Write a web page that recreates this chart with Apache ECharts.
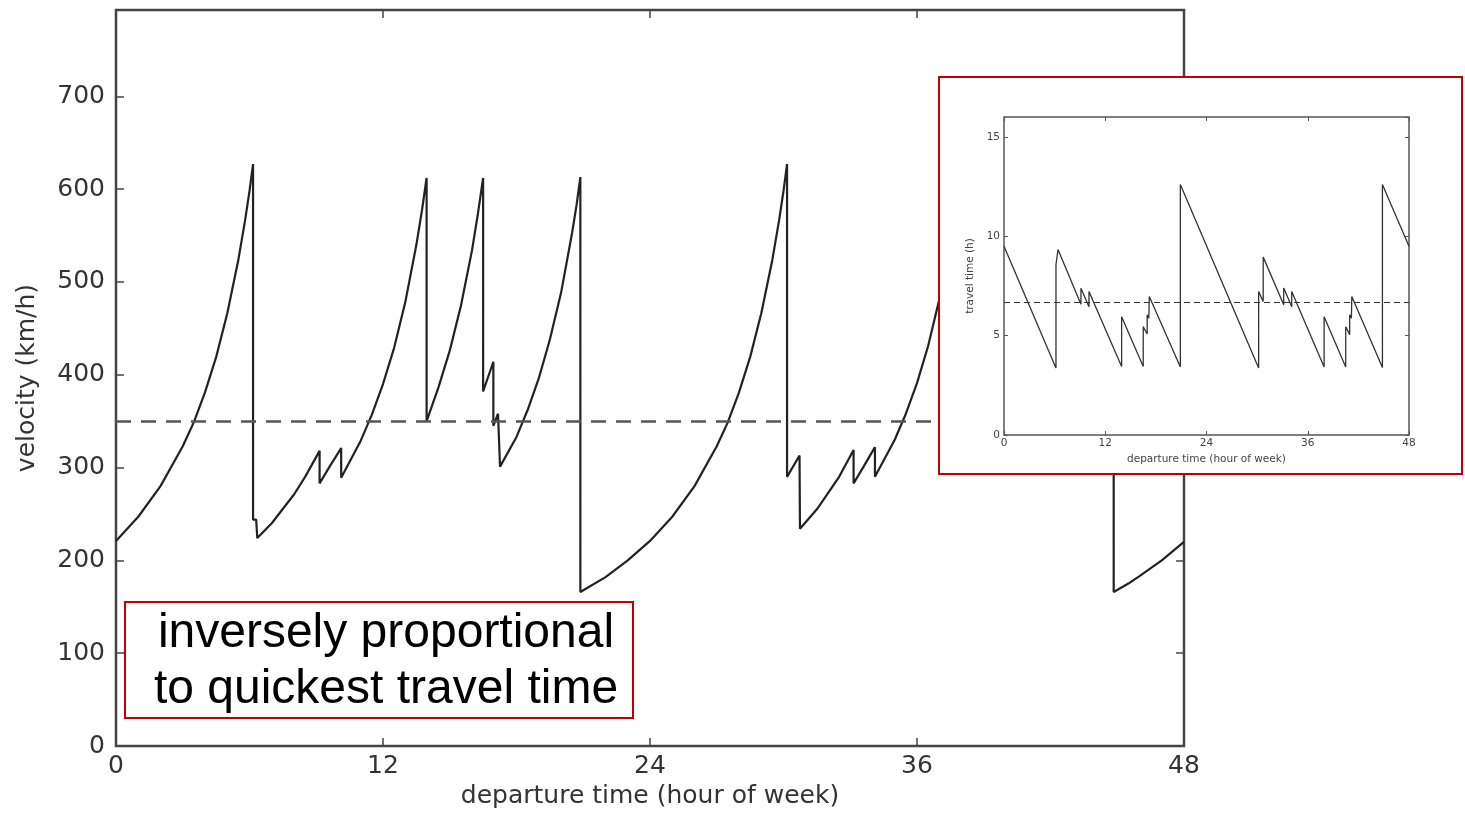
<!DOCTYPE html>
<html>
<head>
<meta charset="utf-8">
<script src="https://cdn.jsdelivr.net/npm/echarts@6/dist/echarts.min.js"></script>
<style>
  html, body { margin: 0; padding: 0; background: #fff; }
  #main { position: absolute; left: 0; top: 0; width: 1465px; height: 814px; }
  #inset { position: absolute; left: 938px; top: 76px; width: 525px; height: 399px;
           box-sizing: border-box; border: 2px solid #c00000; background: #fff; }
</style>
</head>
<body>
<div id="main"></div>
<div id="inset"></div>
<script>
// departure time (hour of week) -> velocity (km/h)
const velHours = [
  0, 1, 2, 3, 3.5, 4, 4.5, 5, 5.5, 5.8, 6, 6.16,
  6.16, 6.3, 6.35, 7, 8, 8.5, 9.15,
  9.15, 9.6, 10.12,
  10.12, 11, 11.5, 12, 12.5, 13, 13.5, 13.75, 13.96,
  13.96, 14.5, 15, 15.5, 16, 16.25, 16.5,
  16.5, 16.96, 16.96, 17.17, 17.26,
  18, 18.5, 19, 19.5, 20, 20.5, 20.7, 20.87,
  20.87, 22, 23, 24, 25, 26, 27, 27.5, 28, 28.5, 29, 29.5, 29.8, 30, 30.16,
  30.16, 30.72, 30.74, 31.5, 32.5, 33.15,
  33.15, 33.6, 34.11,
  34.11, 35, 35.5, 36, 36.5, 37, 37.5, 37.75, 37.94,
  37.94, 38.5, 39, 39.5, 40, 40.25, 40.5,
  40.5, 40.96, 40.96, 41.17, 41.26,
  42, 42.5, 43, 43.5, 44, 44.5, 44.7, 44.84,
  44.84, 45.5, 46, 47, 48
];
const velocity = [
  221, 247, 280, 323, 349, 381, 419, 466, 524, 566, 598, 627,
  244, 244, 224, 240, 271, 290, 318,
  283, 301, 321,
  289, 329, 357, 390, 429, 478, 540, 577, 612,
  350, 387, 426, 474, 534, 571, 612,
  382, 414, 345, 358, 301,
  333, 362, 396, 438, 488, 553, 583, 613,
  166, 182, 200, 221, 247, 280, 323, 349, 381, 419, 466, 524, 566, 598, 627,
  290, 313, 234, 255, 290, 319,
  283, 301, 322,
  290, 330, 358, 391, 431, 481, 543, 580, 612,
  350, 387, 426, 474, 534, 571, 612,
  382, 414, 345, 358, 301,
  333, 362, 396, 438, 488, 553, 583, 613,
  166, 175, 183, 200, 220
];
const meanVelocity = 350;

// inset: departure time -> quickest travel time (h)
const ttHours = [
  0, 6.16, 6.16, 6.22, 6.4, 9.12, 9.12, 10.07, 10.07, 13.94,
  13.94, 16.5, 16.5, 16.97, 16.97, 17.17, 17.22, 20.9,
  20.9, 30.18, 30.18, 30.72, 30.72, 33.15, 33.15, 34.1, 34.1, 37.94,
  37.94, 40.5, 40.5, 40.97, 40.97, 41.17, 41.22, 44.85,
  44.85, 48
];
const travelTime = [
  9.5, 3.37, 8.58, 8.6, 9.33, 6.58, 7.38, 6.45, 7.22, 3.45,
  5.95, 3.45, 5.45, 5.08, 6.05, 5.87, 6.97, 3.42,
  12.6, 3.37, 7.22, 6.72, 8.95, 6.55, 7.4, 6.45, 7.22, 3.42,
  5.95, 3.42, 5.45, 5.05, 6.05, 5.87, 6.97, 3.4,
  12.6, 9.5
];
const meanTravelTime = 6.7;

const hourRange = { min: 0, max: 48, interval: 12 };

const zip = (xs, ys) => xs.map((x, i) => [x, ys[i]]);
const font = "DejaVu Sans";

// ticks point into the plot, on all four sides; the frame is the grid border
const noLine = { show: false, onZero: false };
const mainTick = () => ({ show: true, inside: true, length: 8, lineStyle: { color: "#444", width: 1.5 } });
const smallTick = () => ({ show: true, inside: true, length: 4, lineStyle: { color: "#555", width: 1 } });

const mainChart = echarts.init(document.getElementById("main"));

mainChart.setOption({
  animation: false,
  grid: {
    left: 116, top: 10, width: 1068, height: 738,
    show: true, borderColor: "#444", borderWidth: 2.5, backgroundColor: "#fff"
  },
  xAxis: [
    {
      type: "value", ...hourRange,
      name: "departure time (hour of week)", nameLocation: "middle", nameGap: 38,
      nameTextStyle: { fontFamily: font, fontSize: 25, color: "#333" },
      axisLine: noLine,
      axisTick: mainTick(),
      splitLine: { show: false },
      axisLabel: { fontFamily: font, fontSize: 25, color: "#333", margin: 8 }
    },
    {
      type: "value", ...hourRange, position: "top",
      axisLine: noLine, axisTick: mainTick(),
      axisLabel: { show: false }, splitLine: { show: false }
    }
  ],
  yAxis: [
    {
      type: "value", min: 0, max: 793, interval: 100,
      name: "velocity (km/h)", nameLocation: "middle", nameGap: 76,
      nameTextStyle: { fontFamily: font, fontSize: 25, color: "#333" },
      axisLine: noLine,
      axisTick: mainTick(),
      splitLine: { show: false },
      axisLabel: { fontFamily: font, fontSize: 25, color: "#333", margin: 11, showMaxLabel: false }
    },
    {
      type: "value", min: 0, max: 793, interval: 100, position: "right",
      axisLine: noLine, axisTick: mainTick(),
      axisLabel: { show: false }, splitLine: { show: false }
    }
  ],
  series: [
    {
      type: "line",
      data: zip(velHours, velocity),
      showSymbol: false,
      lineStyle: { color: "#222", width: 2.2 },
      markLine: {
        silent: true, symbol: "none", label: { show: false },
        lineStyle: { color: "#555", width: 2.5, type: [15, 10] },
        data: [{ yAxis: meanVelocity }]
      }
    },
    // empty series so the mirrored top/right axes get drawn
    { type: "line", xAxisIndex: 1, yAxisIndex: 1, data: [] }
  ],
  graphic: [
    {
      type: "rect", z: 100,
      shape: { x: 125, y: 602, width: 508, height: 116 },
      style: { fill: "#fff", stroke: "#c00000", lineWidth: 2 }
    },
    {
      type: "text", z: 101, x: 386, y: 662,
      style: {
        text: "inversely proportional\nto quickest travel time",
        fontFamily: "Liberation Sans", fontSize: 48, lineHeight: 56,
        fill: "#000", align: "center", verticalAlign: "middle"
      }
    }
  ]
});

const insetChart = echarts.init(document.getElementById("inset"));
const smallLabel = { fontFamily: font, fontSize: 10.5, color: "#444" };

insetChart.setOption({
  animation: false,
  grid: {
    left: 64, top: 39, width: 405, height: 318,
    show: true, borderColor: "#555", borderWidth: 1.5
  },
  xAxis: [
    {
      type: "value", ...hourRange,
      name: "departure time (hour of week)", nameLocation: "middle", nameGap: 16,
      nameTextStyle: smallLabel,
      axisLine: noLine, axisTick: smallTick(), splitLine: { show: false },
      axisLabel: { ...smallLabel, margin: 3 }
    },
    {
      type: "value", ...hourRange, position: "top",
      axisLine: noLine, axisTick: smallTick(),
      axisLabel: { show: false }, splitLine: { show: false }
    }
  ],
  yAxis: [
    {
      type: "value", min: 0, max: 16, interval: 5,
      name: "travel time (h)", nameLocation: "middle", nameGap: 19,
      nameTextStyle: smallLabel,
      axisLine: noLine, axisTick: smallTick(), splitLine: { show: false },
      axisLabel: { ...smallLabel, margin: 4, showMaxLabel: false }
    },
    {
      type: "value", min: 0, max: 16, interval: 5, position: "right",
      axisLine: noLine, axisTick: smallTick(),
      axisLabel: { show: false }, splitLine: { show: false }
    }
  ],
  series: [
    {
      type: "line",
      data: zip(ttHours, travelTime),
      showSymbol: false,
      lineStyle: { color: "#333", width: 1.3 },
      markLine: {
        silent: true, symbol: "none", label: { show: false },
        lineStyle: { color: "#333", width: 1.2, type: [6, 4] },
        data: [{ yAxis: meanTravelTime }]
      }
    },
    { type: "line", xAxisIndex: 1, yAxisIndex: 1, data: [] }
  ]
});
</script>
</body>
</html>
